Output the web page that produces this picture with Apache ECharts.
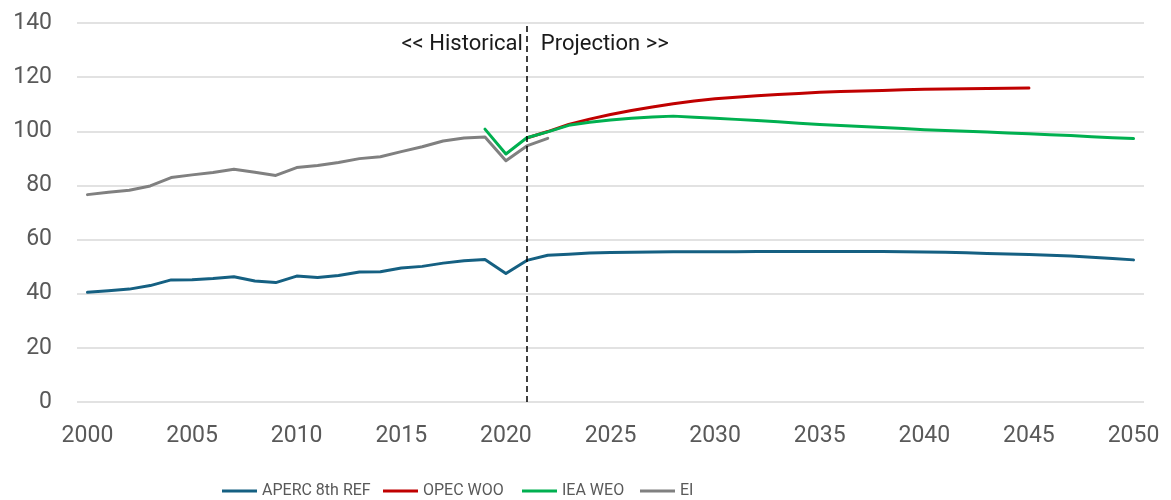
<!DOCTYPE html>
<html>
<head>
<meta charset="utf-8">
<script src="https://cdn.jsdelivr.net/npm/echarts@6/dist/echarts.min.js"></script>
<style>
  html, body { margin: 0; padding: 0; background: #fff; }
  #chart { width: 1171px; height: 500px; }
</style>
</head>
<body>
<div id="chart"></div>
<script>
// years on the x axis
const years = [];
for (let y = 2000; y <= 2050; y++) years.push(String(y));

const yTicks = [0, 20, 40, 60, 80, 100, 120, 140];

// APERC 8th REF
const aperc = [
  40.5, 41.1, 41.7, 43.0, 45.1, 45.2, 45.6, 46.3, 44.7, 44.1,
  46.5, 46.0, 46.7, 48.0, 48.1, 49.5, 50.1, 51.3, 52.2, 52.6,
  47.5, 52.3, 54.2, 54.6, 55.0, 55.2, 55.3, 55.4, 55.5, 55.5,
  55.5, 55.5, 55.6, 55.6, 55.6, 55.6, 55.6, 55.6, 55.6, 55.5,
  55.4, 55.3, 55.1, 54.9, 54.7, 54.5, 54.2, 53.9, 53.5, 53.0,
  52.5
];

// OPEC WOO (2021 - 2045)
const opec = [
  null, null, null, null, null, null, null, null, null, null,
  null, null, null, null, null, null, null, null, null, null,
  null, 97.5, 99.9, 102.5, 104.5, 106.2, 107.7, 109.0, 110.2, 111.2,
  112.0, 112.6, 113.1, 113.6, 114.0, 114.4, 114.7, 114.9, 115.1, 115.3,
  115.5, 115.6, 115.7, 115.8, 115.9, 116.0, null, null, null, null,
  null
];

// IEA WEO (2019 - 2050)
const iea = [
  null, null, null, null, null, null, null, null, null, null,
  null, null, null, null, null, null, null, null, null, 100.8,
  91.6, 97.6, 99.8, 102.2, 103.3, 104.2, 104.8, 105.3, 105.6, 105.2,
  104.8, 104.4, 104.0, 103.5, 103.0, 102.5, 102.1, 101.8, 101.4, 101.0,
  100.6, 100.3, 100.0, 99.7, 99.4, 99.1, 98.7, 98.4, 98.0, 97.6,
  97.3
];

// EI (2000 - 2022)
const ei = [
  76.6, 77.5, 78.2, 79.8, 82.9, 83.9, 84.8, 86.0, 84.9, 83.7,
  86.6, 87.4, 88.5, 89.9, 90.6, 92.5, 94.3, 96.4, 97.5, 97.9,
  89.1, 94.6, 97.4
];

const seriesNames = ['APERC 8th REF', 'OPEC WOO', 'IEA WEO', 'EI'];
const splitYear = '2021';
const colors = ['#156082', '#C00000', '#00B050', '#808080'];
const tickFont = 'Roboto, "Liberation Sans", sans-serif';
// left edge of each legend entry
const legendLeft = [217, 378, 517, 635];

const lineSeries = (name, data, color) => ({
  name: name,
  type: 'line',
  data: data,
  symbol: 'none',
  connectNulls: false,
  lineStyle: { width: 3, color: color, cap: 'round', join: 'round' },
  itemStyle: { color: color },
  emphasis: { disabled: true },
  animation: false,
});

const option = {
  animation: false,
  grid: { left: 77, right: 27, top: 23, bottom: 98 },
  legend: seriesNames.map((name, i) => ({
    left: legendLeft[i],
    top: 478,
    itemWidth: 35,
    itemHeight: 3,
    icon: 'rect',
    data: [name],
    textStyle: {
      color: '#595959',
      fontSize: 16,
      fontFamily: tickFont,
    },
  })),
  xAxis: {
    type: 'category',
    data: years,
    boundaryGap: true,
    axisLine: { show: false },
    axisTick: { show: false },
    axisLabel: {
      interval: 4,
      color: '#595959',
      fontSize: 23,
      fontFamily: tickFont,
      margin: 23,
    },
  },
  yAxis: {
    type: 'value',
    min: yTicks[0],
    max: yTicks[yTicks.length - 1],
    interval: yTicks[1] - yTicks[0],
    axisLine: { show: false },
    axisTick: { show: false },
    axisLabel: {
      color: '#595959',
      fontSize: 23,
      fontFamily: tickFont,
      margin: 25,
    },
    splitLine: { lineStyle: { color: '#D9D9D9', width: 1.5 } },
  },
  series: [
    Object.assign(lineSeries(seriesNames[0], aperc, colors[0]), {
      markLine: {
        silent: true,
        symbol: ['none', 'none'],
        label: { show: false },
        lineStyle: { color: '#000', type: [6, 4], width: 1.5 },
        data: [{ xAxis: splitYear }],
      },
      markPoint: {
        silent: true,
        symbol: 'circle',
        symbolSize: 0,
        data: [
          {
            coord: [splitYear, 132],
            label: { show: true, position: 'left', distance: 4, formatter: '<< Historical' },
          },
          {
            coord: [splitYear, 132],
            label: { show: true, position: 'right', distance: 14, formatter: 'Projection >>' },
          },
        ],
        label: { color: '#1a1a1a', fontSize: 22, fontFamily: tickFont },
      },
    }),
    lineSeries(seriesNames[1], opec, colors[1]),
    lineSeries(seriesNames[2], iea, colors[2]),
    lineSeries(seriesNames[3], ei, colors[3]),
  ],
};

const chart = echarts.init(document.getElementById('chart'), null, { renderer: 'canvas' });
chart.setOption(option);
</script>
</body>
</html>
